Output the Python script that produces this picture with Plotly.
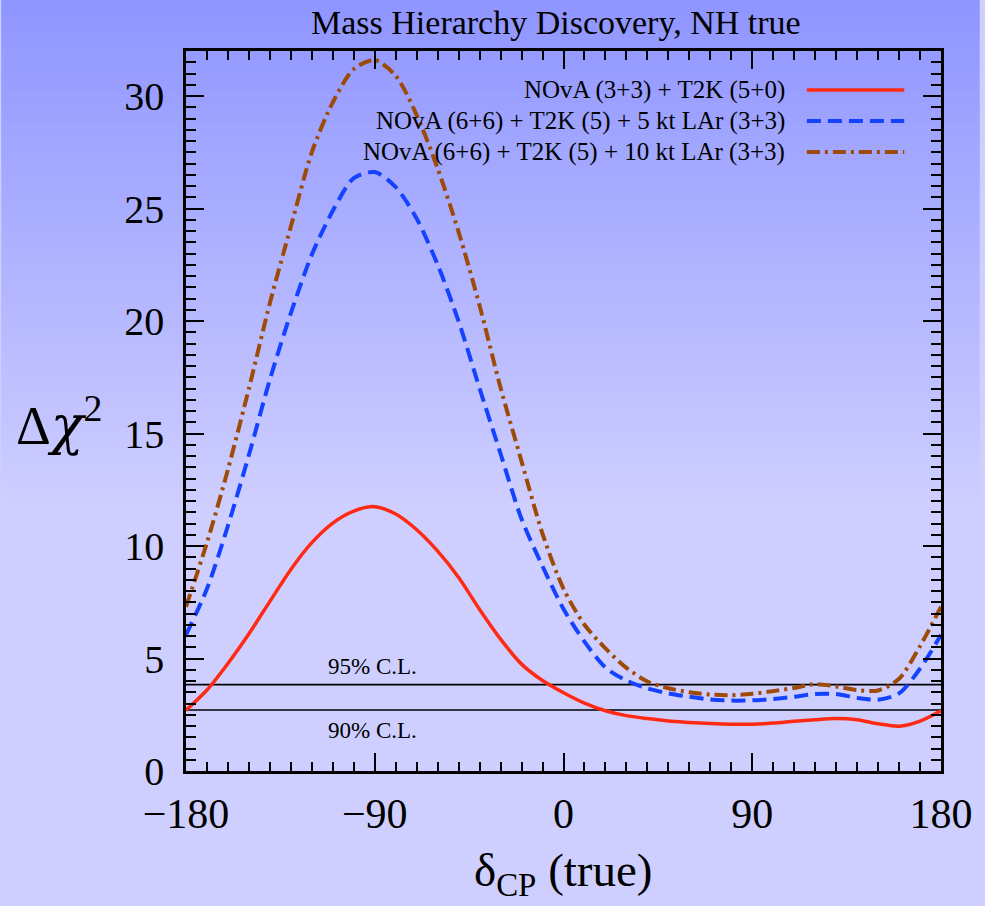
import plotly.graph_objects as go

# ---------------- data ----------------
DELTA_CP = [-180, -170, -160, -150, -140, -130, -120, -110, -100, -90,
            -80, -70, -60, -50, -40, -30, -20, -10, 0, 10,
            20, 30, 40, 50, 60, 70, 80, 90, 100, 110,
            120, 130, 140, 150, 160, 170, 180]

NOVA_T2K = [2.70, 3.60, 4.78, 6.10, 7.54, 8.96, 10.15, 11.02, 11.55, 11.75,
            11.42, 10.72, 9.77, 8.60, 7.18, 5.86, 4.75, 4.02, 3.48, 3.02,
            2.68, 2.46, 2.33, 2.22, 2.16, 2.11, 2.08, 2.08, 2.13, 2.21,
            2.28, 2.33, 2.28, 2.10, 1.99, 2.22, 2.68]

LAR5 = [6.05, 8.10, 10.90, 14.05, 17.40, 20.35, 22.95, 24.90, 26.35, 26.62,
        25.95, 24.55, 22.50, 19.98, 17.00, 14.10, 11.20, 9.10, 7.20, 5.75,
        4.60, 4.02, 3.67, 3.45, 3.30, 3.18, 3.13, 3.14, 3.20, 3.30,
        3.42, 3.42, 3.25, 3.17, 3.45, 4.55, 6.05]

LAR10 = [7.30, 10.15, 13.40, 17.00, 20.80, 24.20, 27.50, 29.72, 31.20, 31.60,
         30.90, 29.15, 26.78, 23.95, 20.68, 17.03, 13.76, 10.54, 8.10, 6.50,
         5.45, 4.58, 3.98, 3.68, 3.50, 3.40, 3.37, 3.43, 3.55, 3.69,
         3.86, 3.76, 3.60, 3.58, 4.10, 5.55, 7.30]

SERIES_NAMES = ["NOvA (3+3) + T2K (5+0)",
                "NOvA (6+6) + T2K (5) + 5 kt LAr (3+3)",
                "NOvA (6+6) + T2K (5) + 10 kt LAr (3+3)"]

CL_LEVELS = [3.84, 2.71]
CL_LABELS = ["95% C.L.", "90% C.L."]

X_TICKS = [-180, -90, 0, 90, 180]
Y_TICKS = [0, 5, 10, 15, 20, 25, 30]

# ---------------- styles ----------------
W, H = 985, 906
L, R, T, B = 186, 39, 51, 135
PW, PH = W - L - R, H - T - B
SERIF = "Liberation Serif, Times New Roman, serif"
COLORS = ["#FF2A14", "#1442FF", "#9E4A08"]
DASHES = ["solid", "14px,7px", "13px,5px,3px,5px"]
WIDTHS = [3.5, 4, 4]


def px_x(X):
    return (X - L) / PW


def px_y(Y):
    return (H - B - Y) / PH


fig = go.Figure()

# confidence level lines
for lvl in CL_LEVELS:
    fig.add_trace(go.Scatter(x=[DELTA_CP[0], DELTA_CP[-1]], y=[lvl, lvl], mode="lines",
                             line=dict(color="black", width=1.6), showlegend=False,
                             hoverinfo="skip"))

for ys, name, col, dash, w in zip([NOVA_T2K, LAR5, LAR10], SERIES_NAMES, COLORS, DASHES, WIDTHS):
    fig.add_trace(go.Scatter(x=DELTA_CP, y=ys, mode="lines", name=name,
                             line=dict(color=col, dash=dash, width=w, shape="spline", smoothing=0.8),
                             showlegend=False))

shapes = []
# background gradient (strips in paper coords)
n = 114
step = H / n
for i in range(n):
    y0 = i * step
    y1 = (i + 1) * step + 0.5
    t = min((y0 + step / 2) / 512.0, 1.0)
    r = int(round(142 + 65 * t))
    g = int(round(149 + 58 * t))
    shapes.append(dict(type="rect", xref="paper", yref="paper",
                       x0=px_x(0), x1=px_x(W), y0=px_y(y1), y1=px_y(y0),
                       fillcolor=f"rgb({r},{g},255)", line=dict(width=0), layer="below"))

annotations = []
# manual legend: text on the left, line sample on the right
leg_rows = [90, 121, 152]
for Y, name, col, dash, w in zip(leg_rows, SERIES_NAMES, COLORS, DASHES, WIDTHS):
    annotations.append(dict(text=name, x=px_x(791), y=px_y(Y), xref="paper", yref="paper",
                            xanchor="right", yanchor="middle", showarrow=False,
                            font=dict(family=SERIF, size=25, color="black")))
    shapes.append(dict(type="line", xref="paper", yref="paper",
                       x0=px_x(811), x1=px_x(909), y0=px_y(Y), y1=px_y(Y),
                       line=dict(color=col, dash=dash, width=w)))

# CL labels
annotations.append(dict(text=CL_LABELS[0], x=-91, y=CL_LEVELS[0], xref="x", yref="y",
                        xanchor="center", yanchor="bottom", yshift=4, showarrow=False,
                        font=dict(family=SERIF, size=23, color="black")))
annotations.append(dict(text=CL_LABELS[1], x=-91, y=CL_LEVELS[1], xref="x", yref="y",
                        xanchor="center", yanchor="top", yshift=-6, showarrow=False,
                        font=dict(family=SERIF, size=23, color="black")))

# title
annotations.append(dict(text="Mass Hierarchy Discovery, NH true", x=px_x(558), y=px_y(23),
                        xref="paper", yref="paper", xanchor="center", yanchor="middle",
                        showarrow=False, font=dict(family=SERIF, size=34, color="black")))
# y title
annotations.append(dict(text="Δ<span style=\"font-family:DejaVu Serif\"><i>χ</i></span><sup>2</sup>",
                        x=px_x(58), y=px_y(422),
                        xref="paper", yref="paper", xanchor="center", yanchor="middle",
                        showarrow=False, font=dict(family=SERIF, size=54, color="black")))
# x title
annotations.append(dict(text="δ<sub>CP</sub> (true)", x=px_x(566), y=px_y(873),
                        xref="paper", yref="paper", xanchor="center", yanchor="middle",
                        showarrow=False, font=dict(family=SERIF, size=47, color="black")))

axis_common = dict(showline=True, linecolor="black", linewidth=2.5, mirror="allticks",
                   ticks="inside", ticklen=18, tickwidth=2, tickcolor="black",
                   showgrid=False, zeroline=False)

fig.update_layout(
    width=W, height=H,
    margin=dict(l=L, r=R, t=T, b=B, pad=0),
    paper_bgcolor="rgb(207,207,255)",
    plot_bgcolor="rgba(0,0,0,0)",
    showlegend=False,
    shapes=shapes,
    annotations=annotations,
    xaxis=dict(range=[-180, 180], tickvals=X_TICKS, ticktext=[str(v).replace("-", "\u2212") for v in X_TICKS],
               tickfont=dict(family=SERIF, size=42, color="black"), ticklabelstandoff=4,
               minor=dict(dtick=10, tick0=-180, ticks="inside", ticklen=9, tickwidth=2, tickcolor="black"),
               **axis_common),
    yaxis=dict(range=[0, 32], tickvals=Y_TICKS,
               tickfont=dict(family=SERIF, size=40, color="black"), ticklabelstandoff=11,
               minor=dict(dtick=0.5, tick0=0, ticks="inside", ticklen=10, tickwidth=2, tickcolor="black"),
               **axis_common),
)

fig.write_html("out.html")
